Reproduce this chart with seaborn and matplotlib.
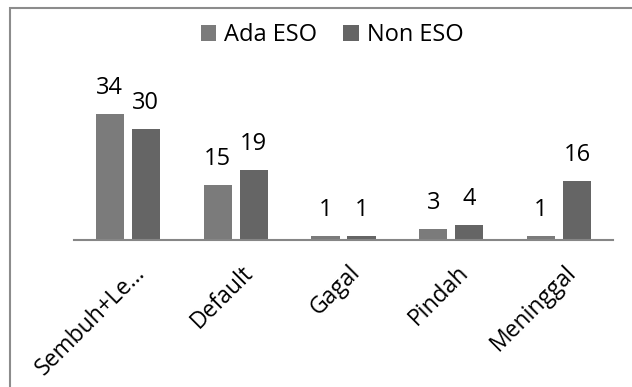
import pandas as pd
import matplotlib
matplotlib.use("Agg")
import matplotlib.pyplot as plt
import matplotlib.transforms as mtransforms
import seaborn as sns

categories = ["Sembuh+Le...", "Default", "Gagal", "Pindah", "Meninggal"]
ada_eso = [34, 15, 1, 3, 1]
non_eso = [30, 19, 1, 4, 16]
series = ["Ada ESO", "Non ESO"]

df = pd.DataFrame({
    "Kategori": categories * 2,
    "Jumlah": ada_eso + non_eso,
    "Kelompok": [series[0]] * len(categories) + [series[1]] * len(categories),
})

sns.set_style("white")
plt.rcParams["font.family"] = ["Open Sans", "DejaVu Sans"]
plt.rcParams["text.color"] = "black"

fig = plt.figure(figsize=(6.32, 3.87), dpi=100)
ax = fig.add_axes([74 / 632, 1 - 240 / 387, 539 / 632, 148 / 387])

sns.barplot(data=df, x="Kategori", y="Jumlah", hue="Kelompok",
            palette=["#7b7b7b", "#656565"], width=0.668, gap=0.214,
            saturation=1, ax=ax, linewidth=0)

for c in ax.containers:
    ax.bar_label(c, padding=10, fontsize=17, color="black")

ax.set_ylim(0, 40)
ax.set_xlim(-0.5, len(categories) - 0.5)
ax.set_xlabel("")
ax.set_ylabel("")
ax.set_yticks([])
for s in ["left", "right", "top"]:
    ax.spines[s].set_visible(False)
ax.spines["bottom"].set_color("#868686")
ax.spines["bottom"].set_linewidth(1.5)
ax.tick_params(axis="x", length=0, pad=15)
shift = mtransforms.ScaledTranslation(5 / 100, 0, fig.dpi_scale_trans)
for lab in ax.get_xticklabels():
    lab.set_rotation(45)
    lab.set_ha("right")
    lab.set_rotation_mode("anchor")
    lab.set_fontsize(16.5)
    lab.set_color("black")
    lab.set_transform(lab.get_transform() + shift)

ax.legend(loc="center", bbox_to_anchor=(332 / 632, 1 - 35 / 387),
          bbox_transform=fig.transFigure, ncol=2, frameon=False,
          fontsize=17, handlelength=0.65, handleheight=0.65,
          handletextpad=0.34, columnspacing=1.1)

# chart border (extends past right and bottom edges)
fig.patches.append(plt.Rectangle((10 / 632, -0.1), 1.0, 1 - 8 / 387 + 0.1,
                                 transform=fig.transFigure, fill=False,
                                 edgecolor="#8c8c8c", linewidth=1.5))

fig.savefig("out.png", dpi=100)
